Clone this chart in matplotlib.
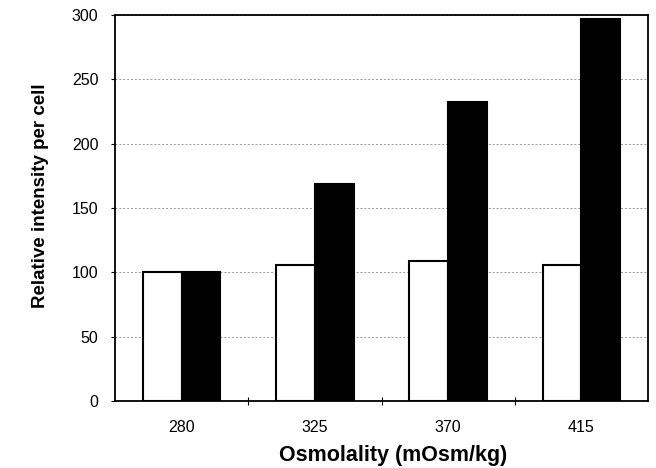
import matplotlib
matplotlib.use("Agg")
import matplotlib.pyplot as plt
import numpy as np

plt.rcParams["font.family"] = ["Liberation Sans", "DejaVu Sans"]

osmolality = ["280", "325", "370", "415"]
control    = [100, 106, 109, 106]
treated    = [100, 169, 232, 297]

fig = plt.figure(figsize=(6.56, 4.68), dpi=100)
ax = fig.add_axes([115 / 656, 1 - 401 / 468, 533 / 656, 386 / 468])

x = np.arange(len(osmolality)); w = 0.29
ax.bar(x - w / 2, control, w, color="white", edgecolor="black", linewidth=1.5, zorder=3)
ax.bar(x + w / 2, treated, w, color="black", edgecolor="black", linewidth=1.5, zorder=3)

ax.set_xlim(-0.5, len(osmolality) - 0.5)
ax.set_ylim(0, 300)
ax.set_yticks(range(0, 301, 50))
ax.set_xticks(x)
ax.set_xticklabels(osmolality)
ax.set_xticks(np.arange(0.5, len(osmolality) - 0.5, 1), minor=True)
ax.tick_params(axis="x", which="major", length=0, pad=14, labelsize=11.5)
ax.tick_params(axis="x", which="minor", length=6, direction="inout", width=0.8)
ax.tick_params(axis="y", length=3, width=0.8, pad=9, labelsize=11.5)
ax.yaxis.grid(True, linestyle=(0, (2, 2)), color="#999999", linewidth=0.7, zorder=0)
for s in ax.spines.values():
    s.set_linewidth(1.3)

ax.set_xlabel("Osmolality (mOsm/kg)", fontsize=15.5, fontweight="bold")
ax.set_ylabel("Relative intensity per cell", fontsize=13.5, fontweight="bold")
# labels sit a little off-centre in the original
ax.xaxis.set_label_coords(0.522, -0.115)
ax.yaxis.set_label_coords(-0.124, 0.531)

fig.savefig("out.png", dpi=100)
